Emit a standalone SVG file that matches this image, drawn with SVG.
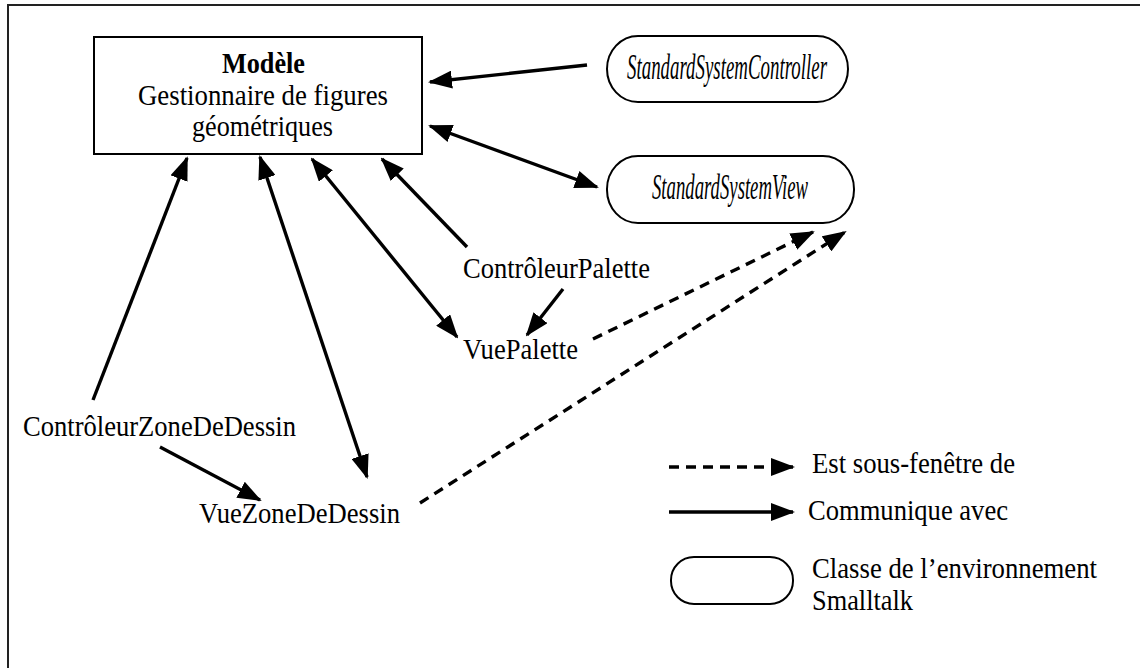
<svg xmlns="http://www.w3.org/2000/svg" width="1140" height="668" viewBox="0 0 1140 668">
<style>
text{font-family:"Liberation Serif","Times New Roman",serif;font-size:29px;fill:#000}
.b{font-weight:bold}
.i{font-style:italic;font-size:35px}
.box{fill:#fff;stroke:#000;stroke-width:2}
.c{fill:none;stroke:#000;stroke-width:3.4}
.d{stroke-dasharray:10 7}
.a{marker-end:url(#ah)}
.bi{marker-start:url(#ah);marker-end:url(#ah)}
</style>
<defs>
<marker id="ah" markerUnits="userSpaceOnUse" markerWidth="24" markerHeight="18" viewBox="0 0 24 18" refX="22" refY="9" orient="auto-start-reverse">
<path d="M0,0 L24,9 L0,18 Z" fill="#000"/>
</marker>
</defs>
<rect x="8" y="5" width="1150" height="690" fill="#fff" stroke="#222" stroke-width="2"/>
<g id="modele">
<rect class="box" x="94" y="37" width="328" height="117"/>
<text class="b" x="222" y="73" textLength="83" lengthAdjust="spacingAndGlyphs">Modèle</text>
<text x="138" y="105" textLength="250" lengthAdjust="spacingAndGlyphs">Gestionnaire de figures</text>
<text x="192" y="136" textLength="141" lengthAdjust="spacingAndGlyphs">géométriques</text>
</g>
<g id="ssc">
<rect class="box" x="607" y="36" width="241" height="66" rx="31" ry="33"/>
<text class="i" x="627" y="79" textLength="200" lengthAdjust="spacingAndGlyphs">StandardSystemController</text>
</g>
<g id="ssv">
<rect class="box" x="607" y="156" width="247" height="67" rx="31" ry="33"/>
<text class="i" x="652" y="199" textLength="156" lengthAdjust="spacingAndGlyphs">StandardSystemView</text>
</g>
<g id="czd"><text x="23" y="436" textLength="273" lengthAdjust="spacingAndGlyphs">ContrôleurZoneDeDessin</text></g>
<g id="vzd"><text x="199" y="523" textLength="201" lengthAdjust="spacingAndGlyphs">VueZoneDeDessin</text></g>
<g id="cp"><text x="463" y="278" textLength="187" lengthAdjust="spacingAndGlyphs">ContrôleurPalette</text></g>
<g id="vp"><text x="463" y="359" textLength="115" lengthAdjust="spacingAndGlyphs">VuePalette</text></g>
<g id="connectors">
<line class="c a" x1="587" y1="65" x2="430" y2="82"/>
<line class="c bi" x1="430" y1="126" x2="597" y2="187"/>
<line class="c a" x1="93" y1="400" x2="187" y2="158"/>
<line class="c bi" x1="260" y1="157" x2="367" y2="477"/>
<line class="c bi" x1="312" y1="159" x2="457" y2="337"/>
<line class="c a" x1="467" y1="247" x2="382" y2="159"/>
<line class="c a" x1="563" y1="289" x2="527" y2="335"/>
<line class="c a" x1="160" y1="447" x2="260" y2="500"/>
<line class="c d a" x1="593" y1="339" x2="813" y2="232"/>
<line class="c d a" x1="420" y1="503" x2="845" y2="232"/>
</g>
<g id="legend">
<line class="c d a" x1="669" y1="467" x2="793" y2="467"/>
<line class="c a" x1="669" y1="512" x2="793" y2="512"/>
<rect class="box" x="671" y="557" width="122" height="47" rx="23" ry="23"/>
<text x="812" y="473" textLength="203" lengthAdjust="spacingAndGlyphs">Est sous-fenêtre de</text>
<text x="808" y="520" textLength="200" lengthAdjust="spacingAndGlyphs">Communique avec</text>
<text x="812" y="578" textLength="285" lengthAdjust="spacingAndGlyphs">Classe de l’environnement</text>
<text x="812" y="610" textLength="101" lengthAdjust="spacingAndGlyphs">Smalltalk</text>
</g>
</svg>
